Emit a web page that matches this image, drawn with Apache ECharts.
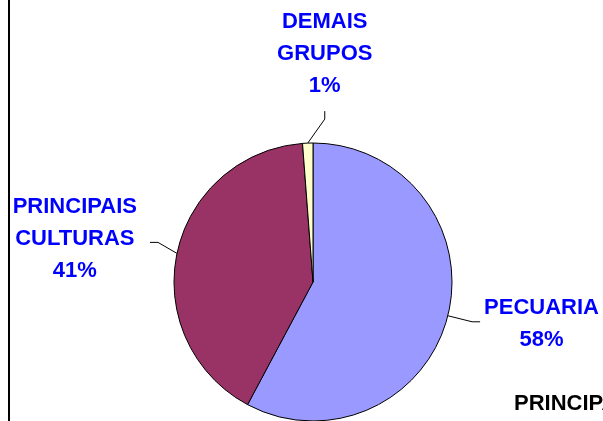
<!DOCTYPE html>
<html lang="pt">
<head>
    <meta charset="utf-8">
    <title>Pie</title>
    <script src="https://cdn.jsdelivr.net/npm/echarts@6/dist/echarts.min.js"></script>
    <style>
        html, body { margin: 0; padding: 0; background: #fff; }
        #main { width: 603px; height: 421px; }
    </style>
</head>
<body>
    <div id="main"></div>
    <script type="text/javascript">
        var categories = ['PECUARIA', 'PRINCIPAIS\nCULTURAS', 'DEMAIS\nGRUPOS'];
        var values = [57.8, 41.0, 1.2];
        var colors = ['#9999FF', '#993366', '#FFFFCC'];
        var titleText = 'PRINCIPAIS';

        var font = 'Arial, "Liberation Sans", sans-serif';

        var data = categories.map(function (name, i) {
            return { name: name, value: values[i], itemStyle: { color: colors[i] } };
        });

        var myChart = echarts.init(document.getElementById('main'));
        myChart.setOption({
            animation: false,
            backgroundColor: '#fff',
            title: {
                text: titleText,
                left: 514,
                top: 393,
                padding: 0,
                textStyle: { fontFamily: font, fontSize: 22, fontWeight: 'bold', color: '#000' }
            },
            graphic: [{
                type: 'line',
                shape: { x1: 9, y1: 0, x2: 9, y2: 421 },
                style: { stroke: '#000', lineWidth: 2 }
            }],
            series: [{
                type: 'pie',
                center: [313, 282],
                radius: 139,
                startAngle: 90,
                clockwise: true,
                percentPrecision: 0,
                avoidLabelOverlap: false,
                itemStyle: { borderColor: '#000', borderWidth: 1 },
                label: {
                    show: true,
                    position: 'outside',
                    formatter: '{b}\n{d}%',
                    color: '#0000FF',
                    fontFamily: font,
                    fontSize: 22,
                    fontWeight: 'bold',
                    lineHeight: 32
                },
                labelLine: {
                    show: true,
                    length: 25,
                    length2: 8,
                    lineStyle: { color: '#000', width: 1 }
                },
                labelLayout: function (params) {
                    var pts = params.labelLinePoints;
                    var r = params.labelRect;
                    if (!pts) return {};
                    var p0 = pts[0];
                    var last = pts[pts.length - 1];
                    if (params.dataIndex === 0) {
                        return {
                            x: last[0] + 4 + r.width / 2, y: last[1] + 2,
                            align: 'center', verticalAlign: 'middle',
                            labelLinePoints: pts.map(function (p) { return [p[0], p[1]]; })
                        };
                    }
                    if (params.dataIndex === 1) {
                        var q1 = [p0[0] - 19, p0[1] - 11];
                        var q2 = [q1[0] - 8, q1[1]];
                        return {
                            x: q2[0] - 13 - r.width / 2, y: q2[1] - 3,
                            align: 'center', verticalAlign: 'middle',
                            labelLinePoints: [[p0[0], p0[1]], q1, q2]
                        };
                    }
                    var kx = p0[0] + 17;
                    var top = p0[1] - 32;
                    return {
                        x: kx, y: top - 9 - r.height / 2,
                        align: 'center', verticalAlign: 'middle',
                        labelLinePoints: [[p0[0], p0[1]], [kx, p0[1] - 24], [kx, top]]
                    };
                },
                data: data
            }]
        });
    </script>
</body>
</html>
